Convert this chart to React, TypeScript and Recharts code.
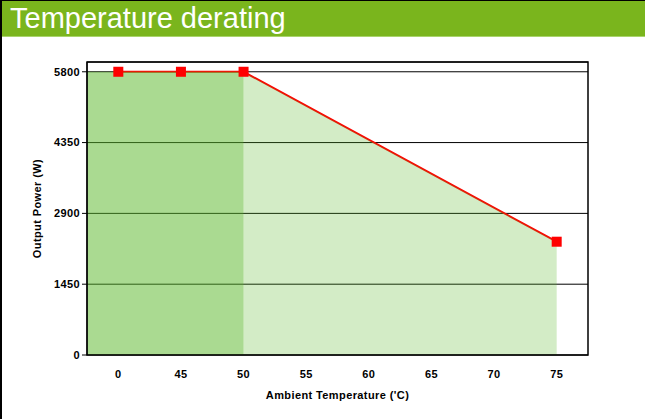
import React from 'react';
import {
  ComposedChart,
  Line,
  Area,
  XAxis,
  YAxis,
  CartesianGrid,
  ReferenceArea,
  Label
} from 'recharts';

// category labels along the x axis (not evenly spaced temps, so drawn by index)
const temps = ['0', '45', '50', '55', '60', '65', '70', '75'];
const powerTicks = [0, 1450, 2900, 4350, 5800];
const powerMax = 6000;

// derating curve
const curveTemps = ['0', '45', '50', '75'];
const curvePower = [5800, 5800, 5800, 2320];
// full power region ends here
const fullPowerUntil = '50';

const FONT = '"Liberation Sans", Arial, sans-serif';
const GREEN = '#5cb82c';

const rows = curveTemps.map((t, i) => ({
  x: temps.indexOf(t),
  power: curvePower[i],
  derated: temps.indexOf(t) >= temps.indexOf(fullPowerUntil) ? curvePower[i] : undefined
}));

const tickIdx = temps.map((_, i) => i);
const bandEdges = [...temps.map((_, i) => i - 0.5), temps.length - 0.5];

const SquareDot = (props: any) => {
  const { cx, cy, index } = props;
  if (cx == null || cy == null) return null;
  return <rect key={`dot-${index}`} x={cx - 5} y={cy - 5} width={10} height={10} fill="#ff0000" />;
};

const tickStyle = { fontFamily: FONT, fontSize: 11, fontWeight: 700, fill: '#000', letterSpacing: 0.4 };

export default function App() {
  return (
    <div
      style={{
        position: 'fixed',
        top: 0,
        left: 0,
        width: 645,
        height: 419,
        background: '#fff',
        overflow: 'hidden'
      }}
    >
      <div style={{ position: 'absolute', top: 0, left: 0, width: 645, height: 1, background: '#000' }} />
      <div
        style={{
          position: 'absolute',
          top: 1,
          left: 0,
          width: 645,
          height: 36,
          background: '#7ab51d',
          borderBottom: '1px solid #a9d46c',
          color: '#fff',
          fontFamily: FONT,
          fontSize: 29,
          lineHeight: '35px',
          paddingLeft: 10,
          boxSizing: 'border-box'
        }}
      >
        Temperature derating
      </div>
      <div style={{ position: 'absolute', top: 0, left: 0, width: 2, height: 419, background: '#000' }} />

      <div style={{ position: 'absolute', top: 0, left: 0 }}>
        <ComposedChart
          width={645}
          height={419}
          data={rows}
          margin={{ top: 62, right: 57, bottom: 19, left: 27 }}
        >
          <CartesianGrid vertical={false} stroke="#000" yAxisId="p" />
          <XAxis
            xAxisId="edges"
            type="number"
            domain={[-0.5, temps.length - 0.5]}
            ticks={bandEdges}
            tickFormatter={() => ''}
            height={0}
            axisLine={{ stroke: '#000', strokeWidth: 1.5 }}
            tickLine={{ stroke: '#000' }}
            tickSize={5}
            allowDataOverflow
          />
          <XAxis
            xAxisId="t"
            type="number"
            dataKey="x"
            domain={[-0.5, temps.length - 0.5]}
            ticks={tickIdx}
            tickFormatter={(v: number) => temps[v] ?? ''}
            axisLine={false}
            tickLine={false}
            tickSize={5}
            tickMargin={10}
            height={45}
            tick={tickStyle}
            interval={0}
            allowDataOverflow
          >
            <Label
              value="Ambient Temperature ('C)"
              position="insideBottom"
              offset={1}
              style={{ ...tickStyle }}
            />
          </XAxis>
          <YAxis
            yAxisId="p"
            type="number"
            domain={[0, powerMax]}
            ticks={powerTicks}
            width={60}
            axisLine={{ stroke: '#000' }}
            tickLine={{ stroke: '#000' }}
            tickSize={5}
            tickMargin={2}
            tick={tickStyle}
            interval={0}
          >
            <Label
              content={(p: any) => {
                const vb = p.viewBox || {};
                const cx = vb.x + 10;
                const cy = vb.y + vb.height / 2;
                return (
                  <text
                    x={cx}
                    y={cy}
                    transform={`rotate(-90 ${cx} ${cy})`}
                    textAnchor="middle"
                    dominantBaseline="central"
                    style={tickStyle}
                  >
                    Output Power (W)
                  </text>
                );
              }}
            />
          </YAxis>

          <Line
            xAxisId="t"
            yAxisId="p"
            dataKey="power"
            stroke="#ff0000"
            strokeWidth={2}
            dot={SquareDot}
            activeDot={false}
            isAnimationActive={false}
            zIndex={50}
          />
          <ReferenceArea
            xAxisId="t"
            yAxisId="p"
            x2={temps.indexOf(fullPowerUntil)}
            y1={0}
            y2={curvePower[0]}
            fill={GREEN}
            fillOpacity={0.52}
            stroke="none"
            ifOverflow="visible"
            zIndex={60}
          />
          <Area
            xAxisId="t"
            yAxisId="p"
            dataKey="derated"
            fill={GREEN}
            fillOpacity={0.27}
            stroke="none"
            isAnimationActive={false}
            activeDot={false}
            zIndex={60}
          />
          <ReferenceArea
            xAxisId="edges"
            yAxisId="p"
            y1={0}
            y2={powerMax}
            fill="none"
            stroke="#000"
            strokeWidth={1.5}
            ifOverflow="visible"
            zIndex={70}
          />
        </ComposedChart>
      </div>
    </div>
  );
}
